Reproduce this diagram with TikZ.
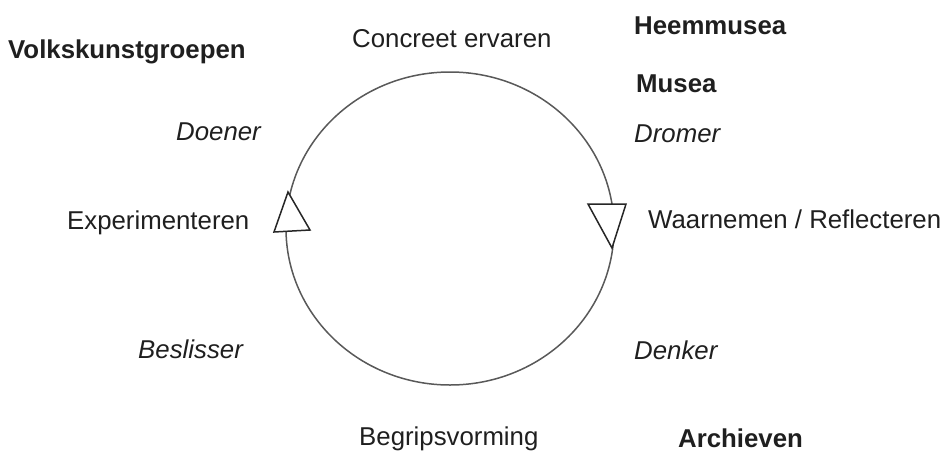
\documentclass[tikz,border=0pt]{standalone}
\usepackage{fontspec}
\setmainfont{Liberation Sans}
\usetikzlibrary{shapes.geometric}
\begin{document}
\begin{tikzpicture}[x=1pt,y=-1pt,
  lbl/.style={inner sep=0pt,anchor=base west,text=black!88,font=\fontsize{25.8}{30}\selectfont},
  lblb/.style={lbl,font=\fontsize{25.8}{30}\selectfont\bfseries},
  lbli/.style={lbl,font=\fontsize{25.8}{30}\selectfont\itshape},
  ring/.style={draw=black!65,line width=1.5pt,fill=white},
  tip/.style={draw=black!85,line width=1.5pt,fill=white,line join=miter}]
\useasboundingbox (0,0) rectangle (948,453);
\node[ring,ellipse,minimum width=328pt,minimum height=313pt,inner sep=0pt] (cycle) at (450,228.5) {};
% arrow heads
\draw[tip] (288,192) -- (274,232) -- (310,230) -- cycle;
\draw[tip] (588,204) -- (626,204) -- (612,248) -- cycle;
% labels
\node[lbl] (concreet) at (352,47) {Concreet ervaren};
\node[lblb] (heem) at (634,34) {Heemmusea};
\node[lblb] (volks) at (8,58) {Volkskunstgroepen};
\node[lblb] (musea) at (636,92) {Musea};
\node[lbli] (doener) at (176,140) {Doener};
\node[lbli] (dromer) at (634,142) {Dromer};
\node[lbl] (exp) at (67,229) {Experimenteren};
\node[lbl] (waar) at (648,228) {Waarnemen / Reflecteren};
\node[lbli] (besl) at (138,358) {Beslisser};
\node[lbli] (denker) at (634,359) {Denker};
\node[lbl] (begrip) at (359,445) {Begripsvorming};
\node[lblb] (arch) at (678,447) {Archieven};
\end{tikzpicture}
\end{document}
